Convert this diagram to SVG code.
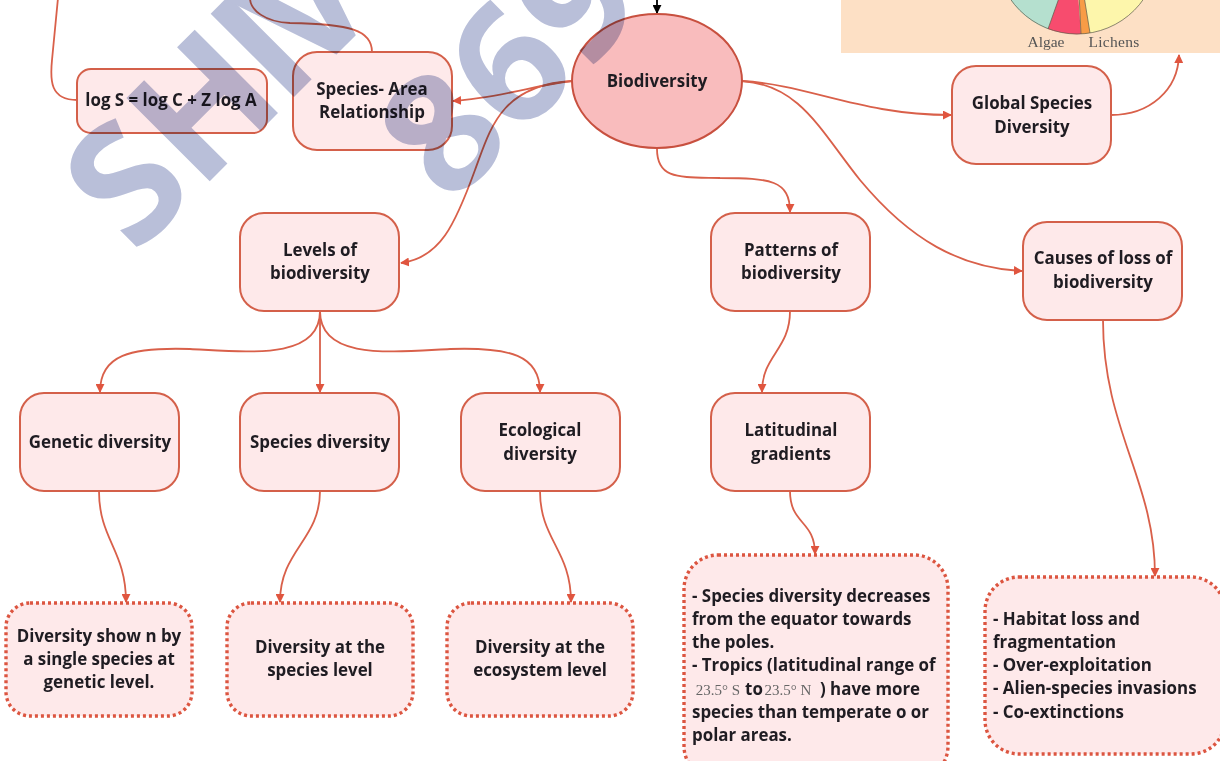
<svg xmlns="http://www.w3.org/2000/svg" width="1220" height="761" viewBox="0 0 1220 761">
<style>
text{font-family:"Open Sans","Liberation Sans",sans-serif;font-weight:700;font-size:16.9px;fill:#1f1c22;text-anchor:middle}
text.l{text-anchor:start}
.n{fill:#fee9ea;stroke:#d4604a;stroke-width:2}
.d{fill:#fee9ea;stroke:#dc5540;stroke-width:3.4;stroke-dasharray:3 3}
.c path{fill:none;stroke:#d9604a;stroke-width:1.8}
.a{marker-end:url(#ah)}
.s{font-family:"Liberation Serif",serif;font-weight:400;fill:#555;font-size:15.5px}
.m{font-family:"Liberation Serif",serif;font-weight:400;fill:#666;font-size:15px}
.w text{font-family:"Open Sans","Liberation Sans",sans-serif;font-weight:700;font-size:165px;fill:#b9bfd9;text-anchor:start}
</style>
<defs>
<marker id="ah" viewBox="0 0 10 10" refX="9" refY="5" markerWidth="9" markerHeight="9" markerUnits="userSpaceOnUse" orient="auto"><path d="M0 0L10 5L0 10z" fill="#e0553f"/></marker>
<marker id="bh" viewBox="0 0 10 10" refX="9" refY="5" markerWidth="9" markerHeight="9" markerUnits="userSpaceOnUse" orient="auto"><path d="M0 0L10 5L0 10z" fill="#000"/></marker>
</defs>
<rect width="1220" height="761" fill="#fff"/>
<g id="pie-chart">
<rect x="841" y="-2" width="381" height="55" fill="#fde0c5"/>
<circle cx="1077" cy="-47" r="81" fill="#fdf6ab"/>
<path d="M1077-47L996-47A81 81 0 0 0 1048 29z" fill="#b5e0cf"/>
<path d="M1075-47L1048 29A81 81 0 0 0 1081 34z" fill="#f74c6e"/>
<path d="M1077-47L1081 34A81 81 0 0 0 1090 33z" fill="#f89c46"/>
<circle cx="1077" cy="-47" r="81" fill="none" stroke="#5a5a4a" stroke-width=".7"/>
<path d="M1075-47L1048 29M1077-47L1081 34M1077-47L1090 33" stroke="#5a5a4a" stroke-width=".7" fill="none"/>
<text class="s" x="1046" y="47">Algae</text>
<text class="s" x="1114" y="47" style="letter-spacing:.3px">Lichens</text>
</g>
<g class="c" id="connectors">
<path d="M77 100C50 100 50 80 52 60L58-2"/>
<path d="M372 52C372 30 350 24 290 23C265 22 250 10 250-2"/>
<path class="a" d="M572 81C540 84 500 98 453 101"/>
<path class="a" d="M572 81C500 85 490 130 475 170C455 225 440 258 401 263"/>
<path class="a" d="M657 149C657 180 680 177 720 178C770 178 790 180 790 212"/>
<path class="a" d="M742 81C810 85 860 115 951 115"/>
<path class="a" d="M742 81C800 85 820 130 860 180C910 240 960 268 1022 271"/>
<path class="a" d="M1111 115C1150 115 1178 90 1179 55"/>
<path class="a" d="M320 311L320 392"/>
<path class="a" d="M320 311C320 360 250 352 190 349C130 347 100 355 100 392"/>
<path class="a" d="M320 311C320 360 390 352 450 349C510 347 540 355 540 392"/>
<path class="a" d="M790 311C790 350 762 355 762 392"/>
<path class="a" d="M790 491C790 525 815 520 815 554"/>
<path class="a" d="M1103 320C1103 430 1155 480 1155 576"/>
<path class="a" d="M99 491C99 540 126 550 126 602"/>
<path class="a" d="M320 491C320 540 280 550 280 602"/>
<path class="a" d="M540 491C540 540 571 550 571 602"/>
<path d="M657-2L657 13" style="stroke:#000;marker-end:url(#bh)"/>
</g>
<g id="log-s"><rect class="n" x="77" y="69" width="190" height="64" rx="14"/><text x="171" y="106">log S = log C + Z log A</text></g>
<g id="species-area"><rect class="n" x="293" y="52" width="159" height="98" rx="24"/><text x="372" y="95">Species- Area</text><text x="372" y="118">Relationship</text></g>
<g id="biodiversity"><ellipse cx="657" cy="81" rx="85" ry="67" fill="#f9bcbd" stroke="#c8503f" stroke-width="2"/><text x="657" y="87">Biodiversity</text></g>
<g id="global"><rect class="n" x="952" y="66" width="159" height="98" rx="24"/><text x="1032" y="109">Global Species</text><text x="1032" y="133">Diversity</text></g>
<g id="levels"><rect class="n" x="240" y="213" width="159" height="98" rx="24"/><text x="320" y="256">Levels of</text><text x="320" y="279">biodiversity</text></g>
<g id="patterns"><rect class="n" x="711" y="213" width="159" height="98" rx="24"/><text x="791" y="256">Patterns of</text><text x="791" y="279">biodiversity</text></g>
<g id="causes"><rect class="n" x="1023" y="222" width="159" height="98" rx="24"/><text x="1103" y="264">Causes of loss of</text><text x="1103" y="288">biodiversity</text></g>
<g id="genetic"><rect class="n" x="20" y="393" width="159" height="98" rx="24"/><text x="100" y="448">Genetic diversity</text></g>
<g id="species"><rect class="n" x="240" y="393" width="159" height="98" rx="24"/><text x="320" y="448">Species diversity</text></g>
<g id="ecological"><rect class="n" x="461" y="393" width="159" height="98" rx="24"/><text x="540" y="436">Ecological</text><text x="540" y="460">diversity</text></g>
<g id="latitudinal"><rect class="n" x="711" y="393" width="159" height="98" rx="24"/><text x="791" y="436">Latitudinal</text><text x="791" y="460">gradients</text></g>
<g id="d-genetic"><rect class="d" x="6" y="603" width="186" height="113" rx="24"/><text x="99" y="642">Diversity show n by</text><text x="99" y="665">a single species at</text><text x="99" y="688">genetic level.</text></g>
<g id="d-species"><rect class="d" x="227" y="603" width="186" height="113" rx="24"/><text x="320" y="653">Diversity at the</text><text x="320" y="676">species level</text></g>
<g id="d-ecosystem"><rect class="d" x="447" y="603" width="186" height="113" rx="24"/><text x="540" y="653">Diversity at the</text><text x="540" y="676">ecosystem level</text></g>
<g id="d-latitudinal"><rect class="d" x="684" y="555" width="264" height="225" rx="34"/>
<text class="l" x="692" y="602">- Species diversity decreases</text>
<text class="l" x="692" y="625">from the equator towards</text>
<text class="l" x="692" y="648">the poles.</text>
<text class="l" x="692" y="671">- Tropics (latitudinal range of</text>
<text class="m" x="718" y="695">23.5° S</text><text x="754" y="695">to</text><text class="m" x="788" y="695">23.5° N</text><text class="l" x="820" y="695">) have more</text>
<text class="l" x="692" y="718">species than temperate o or</text>
<text class="l" x="692" y="741">polar areas.</text></g>
<g id="d-causes"><rect class="d" x="985" y="577" width="240" height="177" rx="34"/>
<text class="l" x="993" y="625">- Habitat loss and</text>
<text class="l" x="993" y="648">fragmentation</text>
<text class="l" x="993" y="671">- Over-exploitation</text>
<text class="l" x="993" y="694">- Alien-species invasions</text>
<text class="l" x="993" y="718">- Co-extinctions</text></g>
<g class="w" id="watermark" style="mix-blend-mode:multiply">
<text transform="translate(135 256) rotate(-45)" x="0 91 210 245">SHIV</text>
<text transform="translate(450 207) rotate(-45)">869</text>
</g>
</svg>
